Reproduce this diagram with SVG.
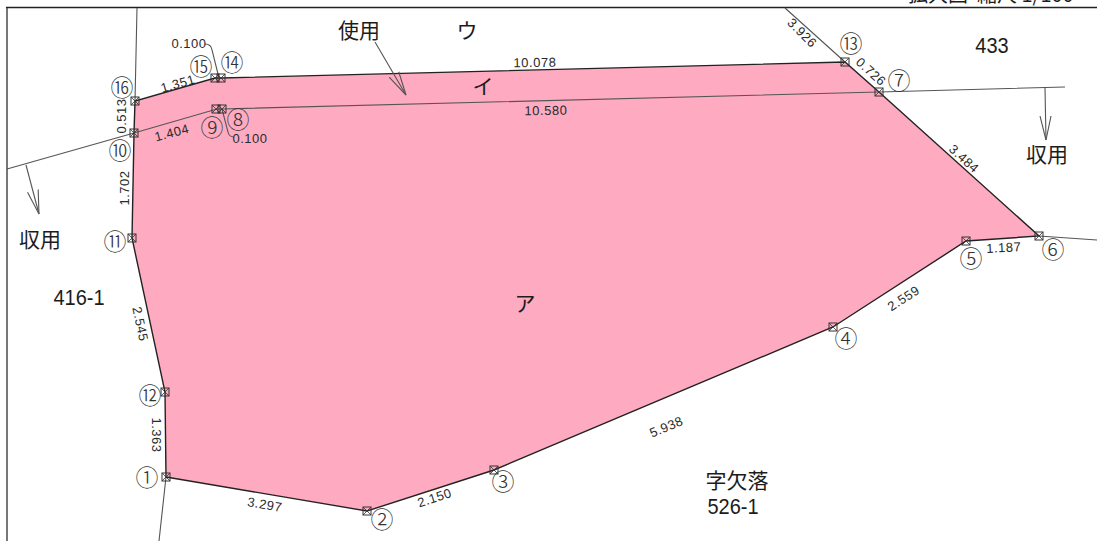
<svg xmlns="http://www.w3.org/2000/svg" width="1097" height="541" viewBox="0 0 1097 541">
<style>
text{font-family:"Noto Sans CJK JP","Liberation Sans",sans-serif;fill:#1c1c1c}
.dim{font-family:"Liberation Sans",sans-serif;font-size:13px;letter-spacing:.5px;text-anchor:middle;fill:#2a2a2a}
.num{font-size:23px;text-anchor:middle;font-weight:300;fill:#333}
.big{font-size:21px;text-anchor:middle}
.lot{font-family:"Liberation Sans",sans-serif;font-size:20px;text-anchor:middle}
.ln{fill:none;stroke:#555;stroke-width:1.1}
.bd{fill:none;stroke:#222;stroke-width:1.4}
.ar{fill:none;stroke:#555;stroke-width:1.1;marker-end:url(#open)}
.mk rect{fill:none;stroke:#333;stroke-width:1}
.mk path{stroke:#333;stroke-width:.8;fill:none}
</style>
<defs>
<marker id="open" markerUnits="userSpaceOnUse" markerWidth="26" markerHeight="14" refX="24" refY="7" orient="auto" viewBox="0 0 26 14">
<path d="M0 1.500L24 7L0 12.500" fill="none" stroke="#555" stroke-width="1.1"/>
</marker>
<g id="pt" class="mk"><rect x="-4" y="-4" width="8" height="8"/><path d="M-4-4L4 4M4-4L-4 4"/></g>
</defs>
<rect width="1097" height="541" fill="#fff"/>
<g id="parcel"><path d="M166 477L367 511L494 470L833 327L966 241L1039 236L879 92L845 62L221 78L215 78L135 101L134 133L132 238L165 392Z" fill="#feaac1"/></g>
<g id="frame"><path d="M7 541V7.500" fill="none" stroke="#777" stroke-width="2"/><path d="M6 7.500H1097" fill="none" stroke="#222" stroke-width="1.400"/></g>
<g id="connectors">
<path class="bd" d="M166 477L367 511L494 470L833 327L966 241L1039 236L879 92L845 62L221 78L215 78L135 101L134 133L132 238L165 392Z"/>
<path class="ln" d="M7 169L134 133L217 109L222 109L879 92L1065 87"/>
<path class="ln" d="M845 62L785 8M135 101L137 8M166 477L159 541M1039 236L1097 240"/>
<path class="ln" d="M219 78L212 50Q211 44 205 44"/>
<path class="ln" d="M222 109L228 132Q229 137 234 137"/>
<path class="ar" d="M26 165L39 214"/>
<path class="ar" d="M1045 88L1046 140"/>
<path class="ar" d="M375 42L406 95"/>
</g>
<g id="n1"><use href="#pt" x="166" y="477"/><text class="num" x="147" y="486">①</text></g>
<g id="n2"><use href="#pt" x="367" y="511"/><text class="num" x="382" y="528">②</text></g>
<g id="n3"><use href="#pt" x="494" y="470"/><text class="num" x="503" y="490">③</text></g>
<g id="n4"><use href="#pt" x="833" y="327"/><text class="num" x="846" y="347">④</text></g>
<g id="n5"><use href="#pt" x="966" y="241"/><text class="num" x="971" y="267">⑤</text></g>
<g id="n6"><use href="#pt" x="1039" y="236"/><text class="num" x="1053" y="258">⑥</text></g>
<g id="n7"><use href="#pt" x="879" y="92"/><text class="num" x="899" y="89">⑦</text></g>
<g id="n8"><use href="#pt" x="222" y="109"/><text class="num" x="238" y="128">⑧</text></g>
<g id="n9"><use href="#pt" x="216" y="109"/><text class="num" x="212" y="136">⑨</text></g>
<g id="n10"><use href="#pt" x="134" y="133"/><text class="num" x="120" y="159">⑩</text></g>
<g id="n11"><use href="#pt" x="132" y="238"/><text class="num" x="115" y="250">⑪</text></g>
<g id="n12"><use href="#pt" x="165" y="392"/><text class="num" x="150" y="404">⑫</text></g>
<g id="n13"><use href="#pt" x="845" y="62"/><text class="num" x="851" y="52">⑬</text></g>
<g id="n14"><use href="#pt" x="221" y="78"/><text class="num" x="232" y="71">⑭</text></g>
<g id="n15"><use href="#pt" x="215" y="78"/><text class="num" x="201" y="75">⑮</text></g>
<g id="n16"><use href="#pt" x="135" y="101"/><text class="num" x="122" y="96">⑯</text></g>
<g id="dims">
<text class="dim" transform="translate(179 88) rotate(-16)">1.351</text>
<text class="dim" transform="translate(126 116) rotate(-90)">0.513</text>
<text class="dim" transform="translate(173 137) rotate(-15)">1.404</text>
<text class="dim" x="189" y="48">0.100</text>
<text class="dim" x="250" y="143">0.100</text>
<text class="dim" transform="translate(129 188) rotate(-90)">1.702</text>
<text class="dim" transform="translate(136 325) rotate(78)">2.545</text>
<text class="dim" transform="translate(152 435) rotate(90)">1.363</text>
<text class="dim" transform="translate(264 509) rotate(10)">3.297</text>
<text class="dim" transform="translate(436 502) rotate(-18)">2.150</text>
<text class="dim" transform="translate(668 431) rotate(-23)">5.938</text>
<text class="dim" transform="translate(906 302) rotate(-33)">2.559</text>
<text class="dim" x="1004" y="252" transform="rotate(-3 1004 252)">1.187</text>
<text class="dim" transform="translate(961 162) rotate(42)">3.484</text>
<text class="dim" transform="translate(868 75) rotate(42)">0.726</text>
<text class="dim" transform="translate(799 36) rotate(45)">3.926</text>
<text class="dim" x="535" y="67" transform="rotate(-1 535 67)">10.078</text>
<text class="dim" x="546" y="115" transform="rotate(-1 546 115)">10.580</text>
</g>
<g id="labels">
<text class="big" x="359" y="38">使用</text>
<text class="big" x="467" y="38">ウ</text>
<text class="big" x="483" y="94">イ</text>
<text class="big" x="525" y="311">ア</text>
<text class="big" x="1047" y="162">収用</text>
<text class="big" x="40" y="247">収用</text>
<text class="big" x="737" y="488">字欠落</text>
<text class="lot" transform="translate(992 53) scale(1 1.12)">433</text>
<text class="lot" transform="translate(79 305) scale(1 1.12)">416-1</text>
<text class="lot" transform="translate(733 514) scale(1 1.12)">526-1</text>
<text x="908" y="2" font-size="20" xml:space="preserve">拡大図  縮尺 1/100</text>
</g>
</svg>
